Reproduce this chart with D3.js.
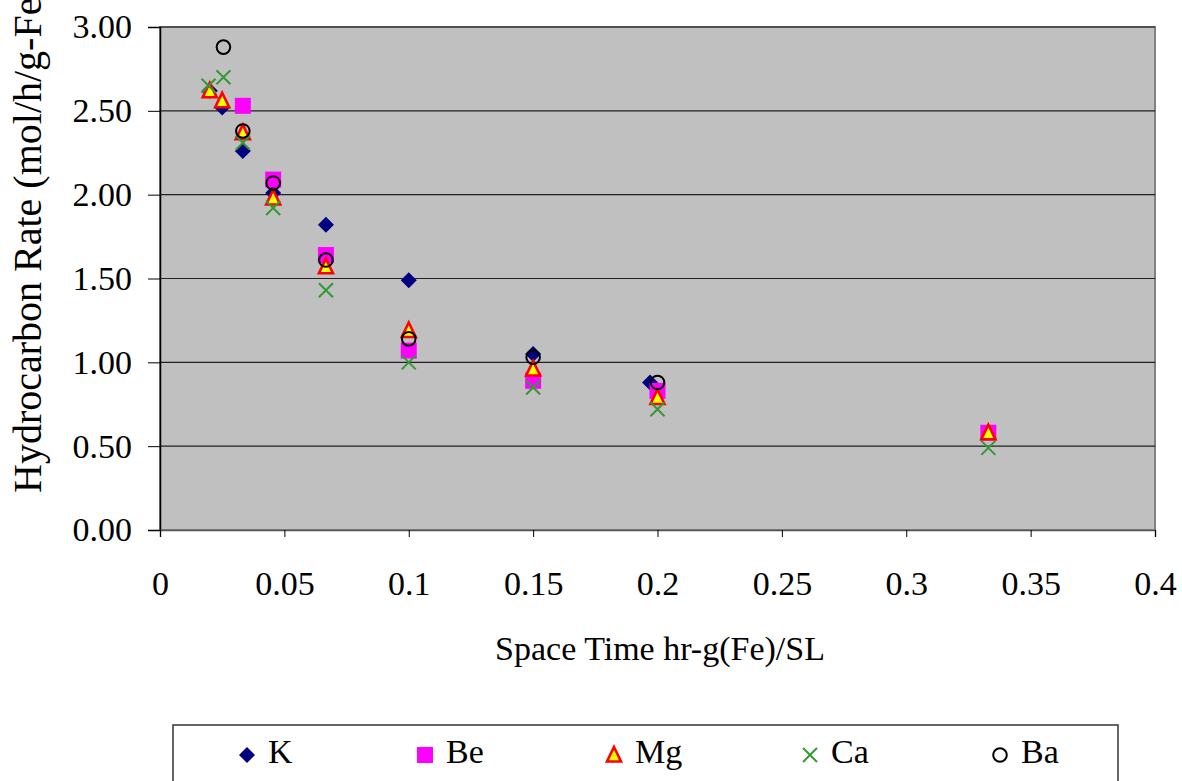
<!DOCTYPE html>
<html>
<head>
<meta charset="utf-8">
<script src="https://cdn.jsdelivr.net/npm/d3@7"></script>
<style>
body { margin: 0; background: #fff; }
text { font-family: "Liberation Serif", "Times New Roman", serif; fill: #000; }
</style>
</head>
<body>
<div id="chart"></div>
<script>
// data
var seriesNames = ["K", "Be", "Mg", "Ca", "Ba"];
var kX = [0.02, 0.025, 0.0333, 0.0455, 0.0667, 0.1, 0.15, 0.197];
var kY = [2.62, 2.52, 2.26, 2.01, 1.82, 1.49, 1.05, 0.88];
var beX = [0.0333, 0.0455, 0.0667, 0.1, 0.15, 0.2, 0.333];
var beY = [2.53, 2.09, 1.64, 1.07, 0.89, 0.83, 0.58];
var mgX = [0.02, 0.025, 0.0333, 0.0455, 0.0667, 0.1, 0.15, 0.2, 0.333];
var mgY = [2.62, 2.56, 2.37, 1.98, 1.57, 1.19, 0.96, 0.79, 0.58];
var caX = [0.0195, 0.0255, 0.0333, 0.0455, 0.0667, 0.1, 0.15, 0.2, 0.333];
var caY = [2.65, 2.70, 2.31, 1.92, 1.43, 1.00, 0.85, 0.72, 0.49];
var baX = [0.0255, 0.0333, 0.0455, 0.0667, 0.1, 0.15, 0.2];
var baY = [2.88, 2.38, 2.07, 1.61, 1.14, 1.03, 0.88];
var xTicks = [0, 0.05, 0.1, 0.15, 0.2, 0.25, 0.3, 0.35, 0.4];
var yTicks = [0, 0.5, 1, 1.5, 2, 2.5, 3];

var W = 1182, H = 781;
var margin = {top: 27, right: 27, bottom: 251, left: 160};
var width = W - margin.left - margin.right;
var height = H - margin.top - margin.bottom;

var svg = d3.select("#chart").append("svg")
	.attr("width", W)
	.attr("height", H);

var g = svg.append("g")
	.attr("transform", "translate(" + margin.left + "," + margin.top + ")");

var x = d3.scaleLinear().domain([0, 0.4]).range([0, width]);
var y = d3.scaleLinear().domain([0, 3]).range([height, 0]);

// plot background
g.append("rect")
	.attr("width", width)
	.attr("height", height)
	.style("fill", "#c0c0c0")
	.style("stroke", "#808080")
	.style("stroke-width", 2);

// gridlines
g.selectAll(".grid")
	.data(yTicks.slice(1))
	.enter().append("line")
	.attr("x1", 0).attr("x2", width)
	.attr("y1", d => y(d)).attr("y2", d => y(d))
	.style("stroke", "#222")
	.style("stroke-width", 1.2);

// axes
var yAxis = g.append("g")
	.call(d3.axisLeft(y).tickValues(yTicks).tickFormat(d3.format(".2f")).tickSize(12).tickPadding(16));
var xAxis = g.append("g")
	.attr("transform", "translate(0," + height + ")")
	.call(d3.axisBottom(x).tickValues(xTicks).tickFormat(d => d === 0 ? "0" : d3.format("")(d)).tickSize(7).tickPadding(34));

[yAxis, xAxis].forEach(function(a) {
	a.selectAll("text").style("font-size", "34px").style("font-family", "Liberation Serif");
	a.selectAll("line").style("stroke", "#000");
	a.select(".domain").style("stroke", "#000").style("stroke-width", 1.5);
});
xAxis.select(".domain").style("stroke", "#555");

// axis titles (the reference cuts the y title at the top edge)
svg.append("text")
	.attr("transform", "translate(41,493) rotate(-90)")
	.style("font-size", "40px")
	.text("Hydrocarbon Rate (mol/h/g-Fe)");

svg.append("text")
	.attr("x", 660)
	.attr("y", 660)
	.attr("text-anchor", "middle")
	.style("font-size", "34px")
	.text("Space Time hr-g(Fe)/SL");

// marker drawing
function marker(sel, name) {
	if (name === "K") {
		sel.append("path").attr("d", "M0,-8L8,0L0,8L-8,0Z")
			.style("fill", "#000080");
	} else if (name === "Be") {
		sel.append("rect").attr("x", -8).attr("y", -8).attr("width", 16).attr("height", 16)
			.style("fill", "#ff00ff");
	} else if (name === "Mg") {
		sel.append("path").attr("d", "M0,-8L7,6.5L-7,6.5Z")
			.style("fill", "#ffff00").style("stroke", "#ff0000").style("stroke-width", 2.6);
	} else if (name === "Ca") {
		sel.append("path").attr("d", "M-7,-7L7,7M-7,7L7,-7")
			.style("fill", "none").style("stroke", "#339933").style("stroke-width", 2);
	} else {
		sel.append("circle").attr("r", 6.8)
			.style("fill", "none").style("stroke", "#000").style("stroke-width", 2);
	}
}

var series = [
	{name: "K", xs: kX, ys: kY},
	{name: "Be", xs: beX, ys: beY},
	{name: "Mg", xs: mgX, ys: mgY},
	{name: "Ca", xs: caX, ys: caY},
	{name: "Ba", xs: baX, ys: baY}
];

series.forEach(function(s) {
	var pts = s.xs.map((v, i) => [v, s.ys[i]]);
	g.selectAll(".pt-" + s.name)
		.data(pts)
		.enter().append("g")
		.attr("class", "pt-" + s.name)
		.attr("transform", d => "translate(" + x(d[0]) + "," + y(d[1]) + ")")
		.each(function() { marker(d3.select(this), s.name); });
});

// legend
svg.append("rect")
	.attr("x", 173).attr("y", 725)
	.attr("width", 945).attr("height", 70)
	.style("fill", "#fff")
	.style("stroke", "#333")
	.style("stroke-width", 1.5);

var legendX = [247, 425, 614, 810, 1000];
var legend = svg.selectAll(".legend")
	.data(seriesNames)
	.enter().append("g")
	.attr("class", "legend")
	.attr("transform", (d, i) => "translate(" + legendX[i] + ",755)");

legend.each(function(d) {
	marker(d3.select(this).append("g"), d);
});

legend.append("text")
	.attr("x", 21)
	.attr("y", 8)
	.style("font-size", "34px")
	.text(d => d);
</script>
</body>
</html>
